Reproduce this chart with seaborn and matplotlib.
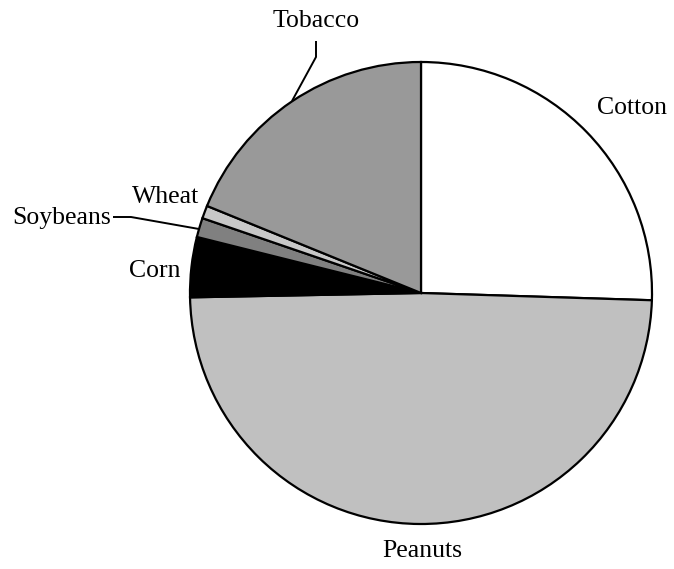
import matplotlib
matplotlib.use("Agg")
import matplotlib.pyplot as plt
import seaborn as sns

sns.set_style("white")
plt.rcParams["font.family"] = ["Liberation Serif", "DejaVu Serif"]

# Share of farm crop value by commodity (percent)
crops = ["Cotton", "Peanuts", "Corn", "Soybeans", "Wheat", "Tobacco"]
shares = [25.5, 49.2, 4.2, 1.35, 0.9, 18.85]
colors = ["#ffffff", "#c0c0c0", "#000000", "#808080", "#c8c8c8", "#999999"]

W, H = 674, 569
fig = plt.figure(figsize=(W / 100, H / 100), dpi=100)
ax = fig.add_axes([0, 0, 1, 1])
ax.set_xlim(0, W)
ax.set_ylim(0, H)
ax.set_aspect("equal")
ax.axis("off")


def Y(y):
    # convert a top-down pixel row into the axis's upward y
    return H - y


ax.pie(
    shares,
    colors=colors,
    startangle=90,
    counterclock=False,
    center=(421, Y(293)),
    radius=231,
    wedgeprops=dict(edgecolor="black", linewidth=1.6),
    frame=True,
)
ax.set_xlim(0, W)
ax.set_ylim(0, H)
ax.axis("off")

fs = 18.5
labels = {
    "Cotton": (632, 114, "center"),
    "Peanuts": (422, 557, "center"),
    "Corn": (155, 277, "center"),
    "Soybeans": (62, 224, "center"),
    "Wheat": (166, 203, "center"),
    "Tobacco": (316, 27, "center"),
}
for name, (x, y, ha) in labels.items():
    ax.text(x, Y(y), name, fontsize=fs, ha=ha, va="baseline", color="black")

# leader lines for the crowded labels
ax.plot([316, 316, 292], [Y(41), Y(57), Y(101)], color="black", lw=1.4,
        solid_capstyle="butt")
ax.plot([113, 131, 199], [Y(217), Y(217), Y(229)], color="black", lw=1.4,
        solid_capstyle="butt")

fig.savefig("out.png", dpi=100)
